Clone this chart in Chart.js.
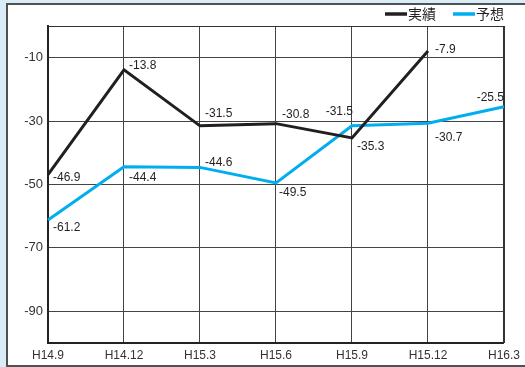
<!DOCTYPE html>
<html><head><meta charset="utf-8">
<script src="https://cdn.jsdelivr.net/npm/chart.js@4.4.1/dist/chart.umd.min.js"></script>
<style>
html,body{margin:0;padding:0;width:525px;height:367px;overflow:hidden;background:#d9edf9;}
#panel{position:absolute;left:6px;top:3px;width:600px;height:360px;border:2px solid #505050;background:#fff;}
#c{position:absolute;left:0;top:0;}
</style></head><body>
<div id="panel"></div>
<canvas id="c" width="525" height="367"></canvas>
<script>
const categories = ['H14.9','H14.12','H15.3','H15.6','H15.9','H15.12','H16.3'];
const seriesNames = ['実績','予想'];
const actualValues = [-46.9,-13.8,-31.5,-30.8,-35.3,-7.9,null];
const forecastValues = [-61.2,-44.4,-44.6,-49.5,-31.5,-30.7,-25.5];
const yTickValues = [-90,-70,-50,-30,-10];

// label placement styles (offsets from point, alignment)
const actualLabelPos = [[5,3,'left'],[5,-4,'left'],[5,-12,'left'],[6,-9,'left'],[5,9,'left'],[7,-1,'left'],null];
const forecastLabelPos = [[5,8,'left'],[5,11,'left'],[5,-5,'left'],[3,10,'left'],[1,-14,'right'],[7,14,'left'],[0,-9,'right']];

const BLACK = '#231f20', BLUE = '#00aeef';

const labelPlugin = {
  id:'valueLabels',
  afterDatasetsDraw(chart){
    const ctx = chart.ctx;
    ctx.save();
    ctx.font = '12px "Liberation Sans", Arial, sans-serif';
    ctx.fillStyle = '#231f20';
    ctx.textBaseline = 'middle';
    const posSets = [actualLabelPos, forecastLabelPos];
    chart.data.datasets.forEach((ds, di) => {
      const meta = chart.getDatasetMeta(di);
      ds.data.forEach((v, i) => {
        if (v === null || v === undefined) return;
        const p = meta.data[i];
        const pos = posSets[di][i];
        ctx.textAlign = pos[2];
        ctx.fillText(v.toFixed(1), p.x + pos[0], p.y + pos[1]);
      });
    });
    ctx.restore();
  }
};

const framePlugin = {
  id:'frame',
  beforeDatasetsDraw(chart){
    const {ctx, chartArea:a} = chart;
    ctx.save();
    ctx.strokeStyle = '#333';
    ctx.lineWidth = 1;
    ctx.beginPath();
    ctx.moveTo(a.left, a.top + 0.5);
    ctx.lineTo(a.right, a.top + 0.5);
    ctx.stroke();
    ctx.lineWidth = 2;
    ctx.beginPath();
    ctx.moveTo(a.right, a.top);
    ctx.lineTo(a.right, a.bottom);
    ctx.stroke();
    ctx.restore();
  }
};

const legendPlugin = {
  id:'customLegend',
  afterDraw(chart){
    const ctx = chart.ctx;
    ctx.save();
    ctx.font = '14px "Noto Sans CJK JP", sans-serif';
    ctx.textBaseline = 'middle';
    ctx.textAlign = 'left';
    const items = [[385, BLACK],[453, BLUE]];
    chart.data.datasets.forEach((ds, i) => {
      const x = items[i][0];
      ctx.strokeStyle = items[i][1];
      ctx.lineWidth = 3.5;
      ctx.beginPath();
      ctx.moveTo(x, 14);
      ctx.lineTo(x + 22, 14);
      ctx.stroke();
      ctx.fillStyle = '#231f20';
      ctx.fillText(ds.label, x + 23, 14);
    });
    ctx.restore();
  }
};

new Chart(document.getElementById('c'), {
  type:'line',
  data:{
    labels: categories,
    datasets:[
      {label: seriesNames[0], data: actualValues, borderColor: BLACK, borderWidth: 3, pointRadius: 0, tension: 0, spanGaps: false},
      {label: seriesNames[1], data: forecastValues, borderColor: BLUE, borderWidth: 3, pointRadius: 0, tension: 0}
    ]
  },
  options:{
    responsive:false, animation:false, devicePixelRatio:1,
    layout:{padding:{left:0, right:20, top:26, bottom:0}},
    plugins:{legend:{display:false}, tooltip:{enabled:false}},
    scales:{
      x:{
        type:'category', offset:false,
        grid:{color:'#444', lineWidth:1, drawTicks:false},
        border:{color:'#222', width:2},
        ticks:{color:'#333', font:{size:12, family:'"Liberation Sans", Arial, sans-serif'}, padding:5, maxRotation:0, autoSkip:false},
        afterFit(s){ s.height = 24; }
      },
      y:{
        min:-100, max:0,
        afterBuildTicks(s){ s.ticks = yTickValues.map(v => ({value:v})); },
        grid:{color:'#444', lineWidth:1, drawTicks:false},
        border:{color:'#222', width:2},
        ticks:{color:'#333', font:{size:13, family:'"Liberation Sans", Arial, sans-serif'}, padding:5},
        afterFit(s){ s.width = 48; }
      }
    }
  },
  plugins:[framePlugin, labelPlugin, legendPlugin]
});
</script>
</body></html>
